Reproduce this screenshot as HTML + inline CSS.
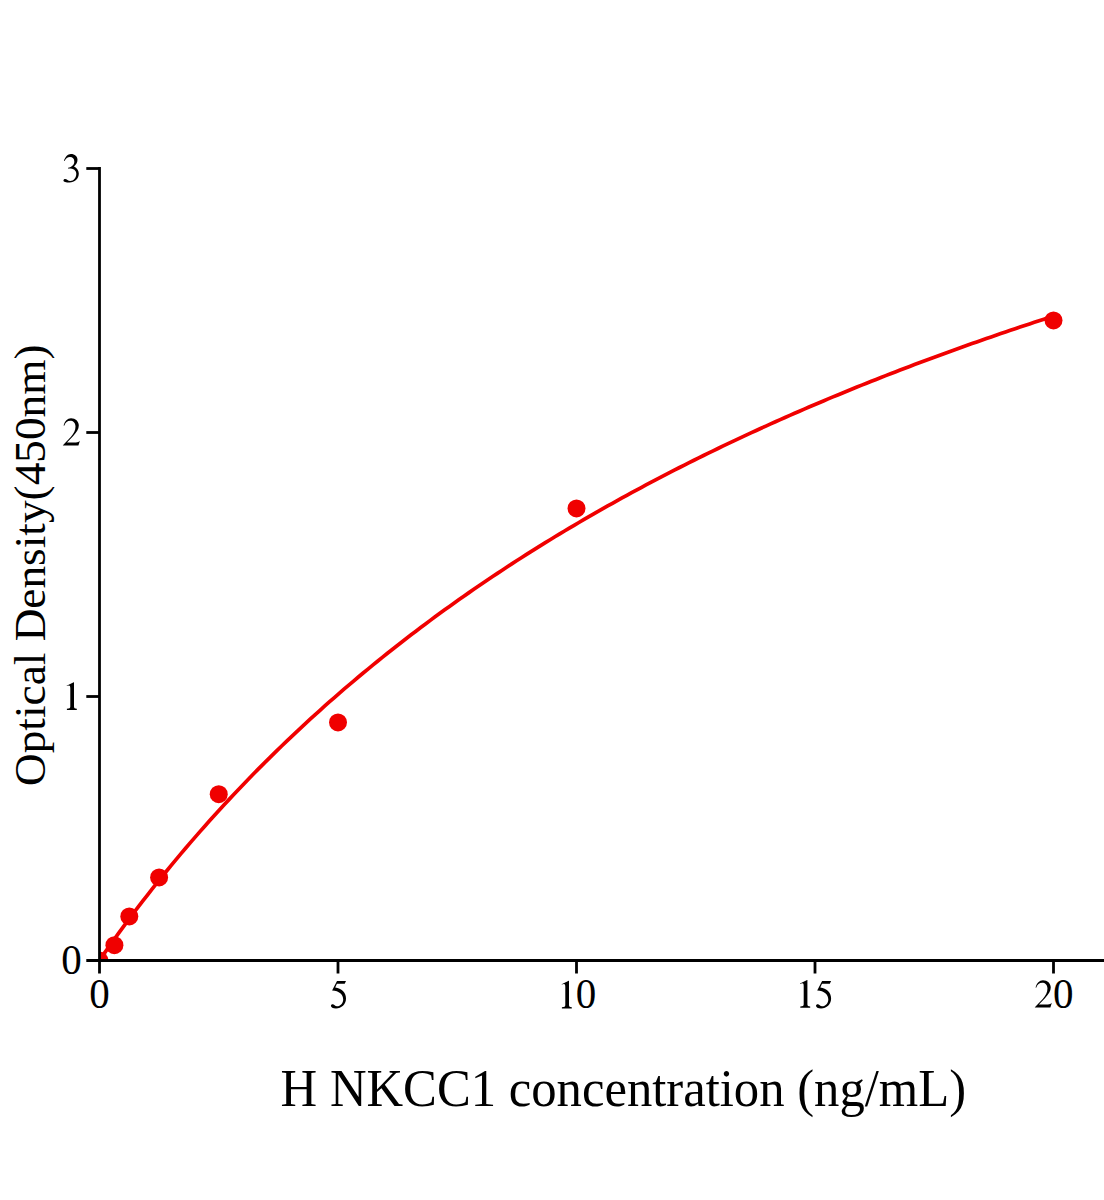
<!DOCTYPE html>
<html><head><meta charset="utf-8"><style>
html,body{margin:0;padding:0;background:#fff;}
svg{display:block;}
text{font-family:"Liberation Serif",serif;fill:#000;}
</style></head><body>
<svg width="1104" height="1200" viewBox="0 0 1104 1200">
<defs><clipPath id="pc"><rect x="99.5" y="0" width="1004.5" height="960.5"/></clipPath></defs>
<g clip-path="url(#pc)">
<path d="M99.50,960.39 L104.29,953.39 L109.09,946.55 L113.88,939.81 L118.68,933.17 L123.47,926.62 L128.26,920.15 L133.06,913.76 L137.85,907.44 L142.65,901.20 L147.44,895.02 L152.23,888.92 L157.03,882.89 L161.82,876.92 L166.62,871.01 L171.41,865.17 L176.20,859.39 L181.00,853.67 L185.79,848.02 L190.59,842.42 L195.38,836.88 L200.17,831.39 L204.97,825.96 L209.76,820.59 L214.56,815.27 L219.35,810.00 L224.14,804.79 L228.94,799.62 L233.73,794.51 L238.53,789.45 L243.32,784.43 L248.11,779.47 L252.91,774.55 L257.70,769.67 L262.49,764.85 L267.29,760.07 L272.08,755.33 L276.88,750.64 L281.67,745.99 L286.46,741.38 L291.26,736.82 L296.05,732.29 L300.85,727.81 L305.64,723.37 L310.43,718.97 L315.23,714.60 L320.02,710.28 L324.82,705.99 L329.61,701.74 L334.40,697.53 L339.20,693.36 L343.99,689.22 L348.79,685.12 L353.58,681.05 L358.37,677.02 L363.17,673.02 L367.96,669.05 L372.76,665.12 L377.55,661.22 L382.34,657.35 L387.14,653.52 L391.93,649.72 L396.73,645.95 L401.52,642.21 L406.31,638.50 L411.11,634.82 L415.90,631.17 L420.70,627.55 L425.49,623.96 L430.28,620.39 L435.08,616.86 L439.87,613.35 L444.67,609.87 L449.46,606.42 L454.25,603.00 L459.05,599.60 L463.84,596.23 L468.64,592.88 L473.43,589.56 L478.22,586.27 L483.02,583.00 L487.81,579.75 L492.61,576.53 L497.40,573.34 L502.19,570.17 L506.99,567.02 L511.78,563.89 L516.58,560.79 L521.37,557.71 L526.16,554.66 L530.96,551.63 L535.75,548.62 L540.55,545.63 L545.34,542.66 L550.13,539.71 L554.93,536.79 L559.72,533.88 L564.52,531.00 L569.31,528.14 L574.10,525.30 L578.90,522.47 L583.69,519.67 L588.48,516.89 L593.28,514.13 L598.07,511.38 L602.87,508.66 L607.66,505.95 L612.45,503.27 L617.25,500.60 L622.04,497.95 L626.84,495.31 L631.63,492.70 L636.42,490.10 L641.22,487.52 L646.01,484.96 L650.81,482.42 L655.60,479.89 L660.39,477.38 L665.19,474.88 L669.98,472.41 L674.78,469.94 L679.57,467.50 L684.36,465.07 L689.16,462.66 L693.95,460.26 L698.75,457.88 L703.54,455.51 L708.33,453.16 L713.13,450.82 L717.92,448.50 L722.72,446.19 L727.51,443.90 L732.30,441.62 L737.10,439.36 L741.89,437.11 L746.69,434.87 L751.48,432.65 L756.27,430.45 L761.07,428.25 L765.86,426.07 L770.66,423.91 L775.45,421.75 L780.24,419.61 L785.04,417.49 L789.83,415.37 L794.63,413.27 L799.42,411.18 L804.21,409.11 L809.01,407.04 L813.80,404.99 L818.60,402.95 L823.39,400.93 L828.18,398.91 L832.98,396.91 L837.77,394.92 L842.57,392.94 L847.36,390.98 L852.15,389.02 L856.95,387.08 L861.74,385.14 L866.54,383.22 L871.33,381.31 L876.12,379.41 L880.92,377.52 L885.71,375.64 L890.51,373.78 L895.30,371.92 L900.09,370.07 L904.89,368.24 L909.68,366.41 L914.47,364.60 L919.27,362.79 L924.06,361.00 L928.86,359.22 L933.65,357.44 L938.44,355.68 L943.24,353.92 L948.03,352.18 L952.83,350.44 L957.62,348.72 L962.41,347.00 L967.21,345.29 L972.00,343.59 L976.80,341.91 L981.59,340.23 L986.38,338.56 L991.18,336.89 L995.97,335.24 L1000.77,333.60 L1005.56,331.96 L1010.35,330.34 L1015.15,328.72 L1019.94,327.11 L1024.74,325.51 L1029.53,323.92 L1034.32,322.34 L1039.12,320.76 L1043.91,319.19 L1048.71,317.63 L1053.50,316.08" fill="none" stroke="#f00000" stroke-width="3.7"/>
<g fill="#f00000"><circle cx="99.50" cy="960.50" r="9"/><circle cx="114.41" cy="945.20" r="9"/><circle cx="129.31" cy="916.40" r="9"/><circle cx="159.12" cy="877.40" r="9"/><circle cx="218.75" cy="794.20" r="9"/><circle cx="338.00" cy="722.40" r="9"/><circle cx="576.50" cy="508.40" r="9"/><circle cx="1053.50" cy="320.40" r="9"/></g>
</g>
<g stroke="#000" stroke-width="2.8" fill="none">
<path d="M99.5,167.1 V973.5"/>
<path d="M86.3,960.5 H1104"/>
<path d="M86.3,168.5 H99.5"/>
<path d="M86.3,432.5 H99.5"/>
<path d="M86.3,696.5 H99.5"/>
<path d="M338,960.5 V973.5"/>
<path d="M576.5,960.5 V973.5"/>
<path d="M815,960.5 V973.5"/>
<path d="M1053.5,960.5 V973.5"/>
</g>
<g font-size="41" text-anchor="end">
<text transform="translate(81.8,974.2) scale(1,1.05)">0</text>
</g>
<g font-size="41" text-anchor="middle">
<text transform="translate(99.5,1008.3) scale(1,1.05)">0</text>
<text transform="translate(586,1008.3) scale(1,1.05)">0</text>
<text transform="translate(1063.35,1007.6) scale(1,1.05)">0</text>
</g>
<g fill="#000"><path transform="translate(60.00,150.00)" d="M3.9,10.6 C5.5,6.8 7.8,4.0 10.8,4.0 C15.0,4.0 17.5,6.5 17.5,9.8 C17.5,12.6 16.0,14.8 14.0,16.4 C17.0,17.8 18.8,20.3 18.8,23.6 C18.8,29.0 14.5,32.6 9.5,32.6 C6.0,32.6 3.4,31.8 3.4,30.4 C3.4,29.5 4.2,28.9 5.2,28.9 C6.8,28.9 8.0,31.0 10.2,31.0 C13.8,31.0 16.3,27.8 16.3,23.8 C16.3,20.2 13.5,18.3 8.0,18.5 L8.1,17.8 C12.0,17.0 14.3,14.5 14.3,11.4 C14.3,8.6 12.6,6.9 10.0,6.9 C7.6,6.9 5.8,8.4 4.6,10.9 Z"/><path transform="translate(60.00,414.00)" d="M3.6,11.6 C4.8,7.0 7.5,4.2 11.0,4.2 C15.5,4.2 18.8,7.3 18.8,11.6 C18.8,15.4 16.5,18.5 13.2,22.0 L7.0,28.4 L16.0,28.4 C17.6,28.4 18.9,28.0 19.9,26.8 L18.4,31.6 L2.9,31.6 L2.9,31.2 L10.8,23.0 C14.0,19.6 15.5,16.2 15.5,12.6 C15.5,8.8 13.0,6.8 10.2,6.8 C7.4,6.8 5.4,8.6 4.2,11.8 Z"/><path transform="translate(56.90,672.20)" d="M9.7,13.5 L16.8,10.0 L17.1,10.0 L17.1,34.2 C17.1,35.8 17.8,36.4 19.9,36.5 L19.9,37.8 L10.0,37.8 L10.0,36.5 C12.6,36.4 13.4,35.8 13.4,34.2 L13.4,16.0 C13.4,14.0 13.0,13.3 12.0,13.3 C11.3,13.3 10.6,13.5 9.9,13.9 Z"/><path transform="translate(326.00,976.00)" d="M11.0,5.1 L20.0,5.1 L18.7,7.8 L10.9,7.8 L9.2,11.6 C15.5,12.4 20.0,16.6 20.0,22.6 C20.0,28.6 15.5,32.5 10.0,32.5 C6.8,32.5 4.9,31.2 4.9,29.8 C4.9,28.9 5.7,28.2 6.6,28.2 C8.2,28.2 9.0,30.3 11.0,30.3 C14.6,30.3 17.2,27.2 17.2,23.5 C17.2,18.6 13.2,15.0 6.1,14.6 Z"/><path transform="translate(551.90,970.70)" d="M9.7,13.5 L16.8,10.0 L17.1,10.0 L17.1,34.2 C17.1,35.8 17.8,36.4 19.9,36.5 L19.9,37.8 L10.0,37.8 L10.0,36.5 C12.6,36.4 13.4,35.8 13.4,34.2 L13.4,16.0 C13.4,14.0 13.0,13.3 12.0,13.3 C11.3,13.3 10.6,13.5 9.9,13.9 Z"/><path transform="translate(790.30,970.00)" d="M9.7,13.5 L16.8,10.0 L17.1,10.0 L17.1,34.2 C17.1,35.8 17.8,36.4 19.9,36.5 L19.9,37.8 L10.0,37.8 L10.0,36.5 C12.6,36.4 13.4,35.8 13.4,34.2 L13.4,16.0 C13.4,14.0 13.0,13.3 12.0,13.3 C11.3,13.3 10.6,13.5 9.9,13.9 Z"/><path transform="translate(811.10,976.00)" d="M11.0,5.1 L20.0,5.1 L18.7,7.8 L10.9,7.8 L9.2,11.6 C15.5,12.4 20.0,16.6 20.0,22.6 C20.0,28.6 15.5,32.5 10.0,32.5 C6.8,32.5 4.9,31.2 4.9,29.8 C4.9,28.9 5.7,28.2 6.6,28.2 C8.2,28.2 9.0,30.3 11.0,30.3 C14.6,30.3 17.2,27.2 17.2,23.5 C17.2,18.6 13.2,15.0 6.1,14.6 Z"/><path transform="translate(1031.95,976.00)" d="M3.6,11.6 C4.8,7.0 7.5,4.2 11.0,4.2 C15.5,4.2 18.8,7.3 18.8,11.6 C18.8,15.4 16.5,18.5 13.2,22.0 L7.0,28.4 L16.0,28.4 C17.6,28.4 18.9,28.0 19.9,26.8 L18.4,31.6 L2.9,31.6 L2.9,31.2 L10.8,23.0 C14.0,19.6 15.5,16.2 15.5,12.6 C15.5,8.8 13.0,6.8 10.2,6.8 C7.4,6.8 5.4,8.6 4.2,11.8 Z"/></g>
<text transform="translate(280.6,1105.8) scale(1,1.05)" font-size="50.7">H NKCC1 concentration (ng/mL)</text>
<text transform="translate(44.6,786) rotate(-90)" x="0" y="0" font-size="45.3">Optical Density(450nm)</text>
</svg>
</body></html>
